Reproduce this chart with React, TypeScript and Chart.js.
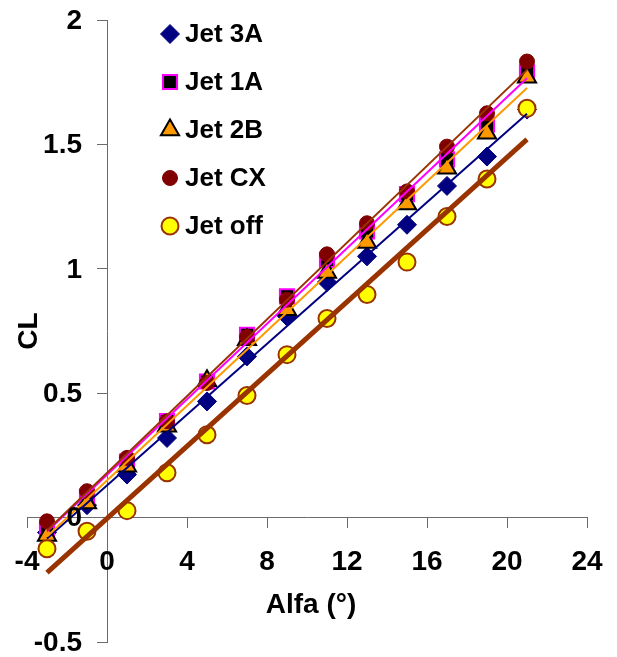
import React, { useEffect, useRef } from 'react';
import { Chart, registerables } from 'chart.js';
import { drawPoint } from 'chart.js/helpers';

Chart.register(...registerables);

const FONT = "'Liberation Sans', Arial, sans-serif";

// Angle of attack (deg)
const alfa = [-3, -1, 1, 3, 5, 7, 9, 11, 13, 15, 17, 19, 21];

// Lift coefficient CL per configuration
const jet3A = [-0.06, 0.05, 0.173, 0.32, 0.467, 0.648, 0.808, 0.947, 1.05, 1.177, 1.333, 1.451, 1.64];
const jet1A = [-0.05, 0.085, 0.225, 0.388, 0.547, 0.735, 0.889, 1.036, 1.15, 1.3, 1.44, 1.58, 1.79];
const jet2B = [-0.072, 0.059, 0.206, 0.367, 0.55, 0.715, 0.835, 0.985, 1.106, 1.26, 1.404, 1.545, 1.77];
const jetCX = [-0.015, 0.106, 0.24, 0.387, 0.541, 0.726, 0.876, 1.058, 1.183, 1.311, 1.491, 1.625, 1.833];
const jetOff = [-0.125, -0.055, 0.028, 0.18, 0.333, 0.491, 0.655, 0.8, 0.897, 1.027, 1.21, 1.361, 1.645];

const seriesNames = ['Jet 3A', 'Jet 1A', 'Jet 2B', 'Jet CX', 'Jet off'];
const seriesValues = [jet3A, jet1A, jet2B, jetCX, jetOff];

const xTickValues = [-4, 0, 4, 8, 12, 16, 20, 24];
const xTickLabels = ['-4', '0', '4', '8', '12', '16', '20', '24'];
const yTickValues = [-0.5, 0, 0.5, 1, 1.5, 2];
const yTickLabels = ['-0.5', '0', '0.5', '1', '1.5', '2'];

const styles = [
  { pointStyle: 'rectRot', radius: 9.5, bg: '#000080', border: '#000080', bw: 1, line: '#000080', lw: 2 },
  { pointStyle: 'rect', radius: 10, bg: '#000000', border: '#FF00FF', bw: 2, line: '#FF00FF', lw: 2 },
  { pointStyle: 'triangle', radius: 10.5, bg: '#FF9900', border: '#000000', bw: 2, line: '#FF9900', lw: 2 },
  { pointStyle: 'circle', radius: 7.5, bg: '#800000', border: '#800000', bw: 1, line: '#993300', lw: 2 },
  { pointStyle: 'circle', radius: 8.5, bg: '#FFFF00', border: '#993300', bw: 2, line: '#993300', lw: 5 },
];

function regression(xs: number[], ys: number[]) {
  const n = xs.length;
  const mx = xs.reduce((a, b) => a + b, 0) / n;
  const my = ys.reduce((a, b) => a + b, 0) / n;
  let sxy = 0;
  let sxx = 0;
  for (let i = 0; i < n; i++) {
    sxy += (xs[i] - mx) * (ys[i] - my);
    sxx += (xs[i] - mx) * (xs[i] - mx);
  }
  const slope = sxy / sxx;
  return { slope, intercept: my - slope * mx };
}

const overlayPlugin = {
  id: 'overlay',
  afterDraw(chart: any) {
    const ctx = chart.ctx as CanvasRenderingContext2D;
    const area = chart.chartArea;
    const xs = chart.scales.x;
    const ys = chart.scales.y;
    const x0 = xs.getPixelForValue(0);
    const y0 = ys.getPixelForValue(0);
    ctx.save();
    ctx.fillStyle = '#000';

    // tick labels
    ctx.font = `bold 28px ${FONT}`;
    ctx.textAlign = 'center';
    ctx.textBaseline = 'middle';
    xTickValues.forEach((v, i) => {
      ctx.fillText(xTickLabels[i], xs.getPixelForValue(v), y0 + 45);
    });
    ctx.textAlign = 'right';
    yTickValues.forEach((v, i) => {
      ctx.fillText(yTickLabels[i], x0 - 25, ys.getPixelForValue(v) + 1);
    });

    // axis titles
    ctx.textAlign = 'center';
    ctx.fillText('Alfa (°)', (area.left + area.right) / 2 + 4, 605);
    ctx.save();
    ctx.translate(29, (area.top + area.bottom) / 2);
    ctx.rotate(-Math.PI / 2);
    ctx.fillText('CL', 0, 0);
    ctx.restore();

    // legend
    ctx.font = `bold 26px ${FONT}`;
    ctx.textAlign = 'left';
    ctx.textBaseline = 'middle';
    seriesNames.forEach((name, i) => {
      const s = styles[i];
      const y = 34 + i * 48;
      ctx.fillStyle = s.bg;
      ctx.strokeStyle = s.border;
      ctx.lineWidth = s.bw;
      drawPoint(ctx, { pointStyle: s.pointStyle as any, radius: s.radius, rotation: 0, borderWidth: s.bw }, 170, y);
      ctx.fillStyle = '#000';
      ctx.fillText(name, 185, y + 1);
    });
    ctx.restore();
  },
};

export default function App() {
  const ref = useRef<HTMLCanvasElement>(null);

  useEffect(() => {
    const datasets: any[] = [];
    seriesNames.forEach((name, i) => {
      const s = styles[i];
      const ys = seriesValues[i];
      datasets.push({
        label: name,
        data: alfa.map((a, k) => ({ x: a, y: ys[k] })),
        showLine: false,
        pointStyle: s.pointStyle,
        pointRadius: s.radius,
        pointBackgroundColor: s.bg,
        pointBorderColor: s.border,
        pointBorderWidth: s.bw,
        backgroundColor: s.bg,
        borderColor: s.border,
        order: 20 - i,
      });
    });
    seriesNames.forEach((name, i) => {
      const s = styles[i];
      const { slope, intercept } = regression(alfa, seriesValues[i]);
      const xa = alfa[0];
      const xb = alfa[alfa.length - 1];
      datasets.push({
        label: name + ' trend',
        data: [
          { x: xa, y: intercept + slope * xa },
          { x: xb, y: intercept + slope * xb },
        ],
        showLine: true,
        pointRadius: 0,
        borderColor: s.line,
        borderWidth: s.lw,
        backgroundColor: s.line,
        fill: false,
        order: 10 - i,
      });
    });

    const axisColor = '#6b6b6b';

    const chart = new Chart(ref.current!, {
      type: 'scatter',
      data: { datasets },
      options: {
        animation: false,
        responsive: false,
        events: [],
        layout: { padding: { left: 27, right: 30, top: 20, bottom: 15 } },
        plugins: {
          legend: { display: false },
          tooltip: { enabled: false },
          title: { display: false },
        },
        scales: {
          x: {
            type: 'linear',
            position: { y: 0 } as any,
            min: xTickValues[0],
            max: xTickValues[xTickValues.length - 1],
            afterBuildTicks: (scale: any) => {
              scale.ticks = xTickValues.map((v) => ({ value: v }));
            },
            ticks: { display: false, padding: 0 },
            grid: { drawOnChartArea: false, drawTicks: true, tickLength: 10, color: axisColor, tickColor: axisColor },
            border: { display: true, color: axisColor, width: 1 },
          },
          y: {
            type: 'linear',
            position: { x: 0 } as any,
            min: yTickValues[0],
            max: yTickValues[yTickValues.length - 1],
            afterBuildTicks: (scale: any) => {
              scale.ticks = yTickValues.map((v) => ({ value: v }));
            },
            ticks: { display: false, padding: 0 },
            grid: { drawOnChartArea: false, drawTicks: true, tickLength: 10, color: axisColor, tickColor: axisColor },
            border: { display: true, color: axisColor, width: 1 },
          },
        },
      },
      plugins: [overlayPlugin],
    });
    return () => chart.destroy();
  }, []);

  return (
    <div style={{ position: 'absolute', left: 0, top: 0, width: 617, height: 657 }}>
      <canvas ref={ref} width={617} height={657} style={{ display: 'block' }} />
    </div>
  );
}
